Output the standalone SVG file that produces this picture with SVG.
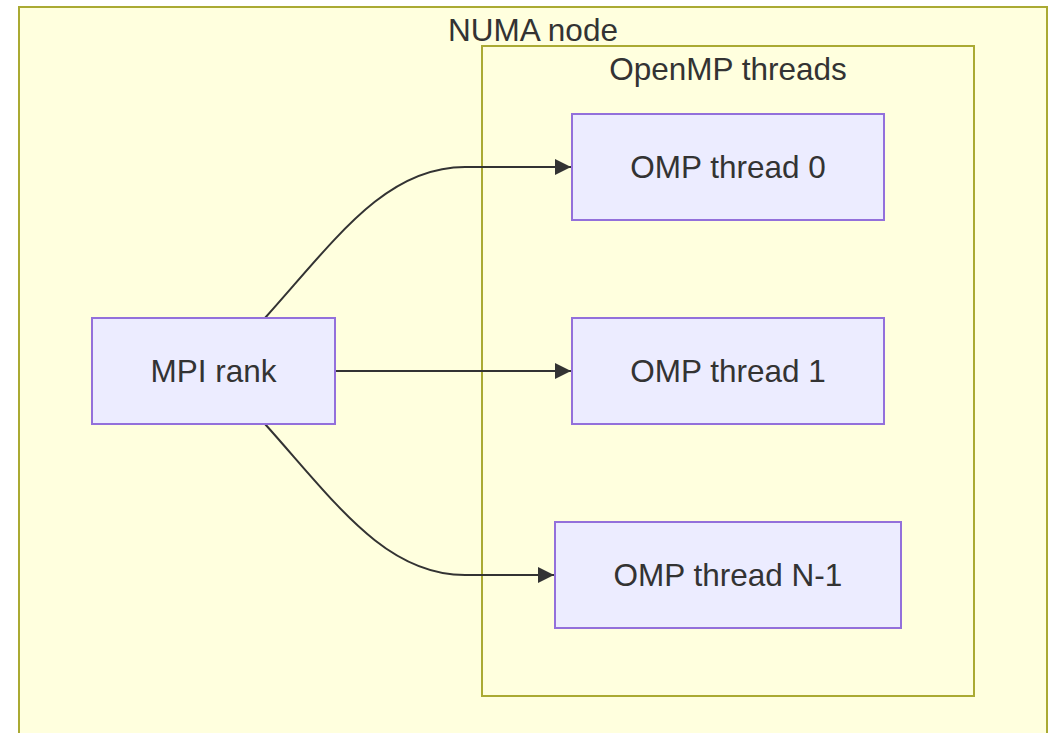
<svg xmlns="http://www.w3.org/2000/svg" width="1051" height="733" viewBox="0 0 1051 733">
  <style>
    .cluster { fill: #ffffde; stroke: #aaaa33; stroke-width: 2; }
    .node { fill: #ececff; stroke: #9370db; stroke-width: 2; }
    .label { font-family: "Liberation Sans", Arial, sans-serif; font-size: 31.5px; fill: #333333; text-anchor: middle; }
    .edge { fill: none; stroke: #333333; stroke-width: 2; }
  </style>
  <defs>
    <marker id="arrow" viewBox="0 0 10 10" refX="10" refY="5" markerWidth="8" markerHeight="8" markerUnits="strokeWidth" orient="auto">
      <path d="M0,0 L10,5 L0,10 Z" fill="#333333"/>
    </marker>
  </defs>
  <rect width="1051" height="733" fill="#ffffff"/>

  <g id="numa-node">
    <rect class="cluster" x="19" y="7" width="1028" height="740"/>
    <text class="label" x="533" y="41">NUMA node</text>
  </g>

  <g id="openmp-threads">
    <rect class="cluster" x="482" y="46" width="492" height="650"/>
    <text class="label" x="728" y="80">OpenMP threads</text>
  </g>

  <g id="connectors">
    <path class="edge" d="M265,318 C335,240 385,167 465,167 L571,167" marker-end="url(#arrow)"/>
    <path class="edge" d="M336,371 L571,371" marker-end="url(#arrow)"/>
    <path class="edge" d="M265,424 C335,502 385,575 465,575 L554,575" marker-end="url(#arrow)"/>
  </g>

  <g id="mpi-rank">
    <rect class="node" x="92" y="318" width="243" height="106"/>
    <text class="label" x="213.5" y="382">MPI rank</text>
  </g>

  <g id="omp-thread-0">
    <rect class="node" x="572" y="114" width="312" height="106"/>
    <text class="label" x="728" y="178">OMP thread 0</text>
  </g>

  <g id="omp-thread-1">
    <rect class="node" x="572" y="318" width="312" height="106"/>
    <text class="label" x="728" y="382">OMP thread 1</text>
  </g>

  <g id="omp-thread-n-1">
    <rect class="node" x="555" y="522" width="346" height="106"/>
    <text class="label" x="728" y="586">OMP thread N-1</text>
  </g>
</svg>
